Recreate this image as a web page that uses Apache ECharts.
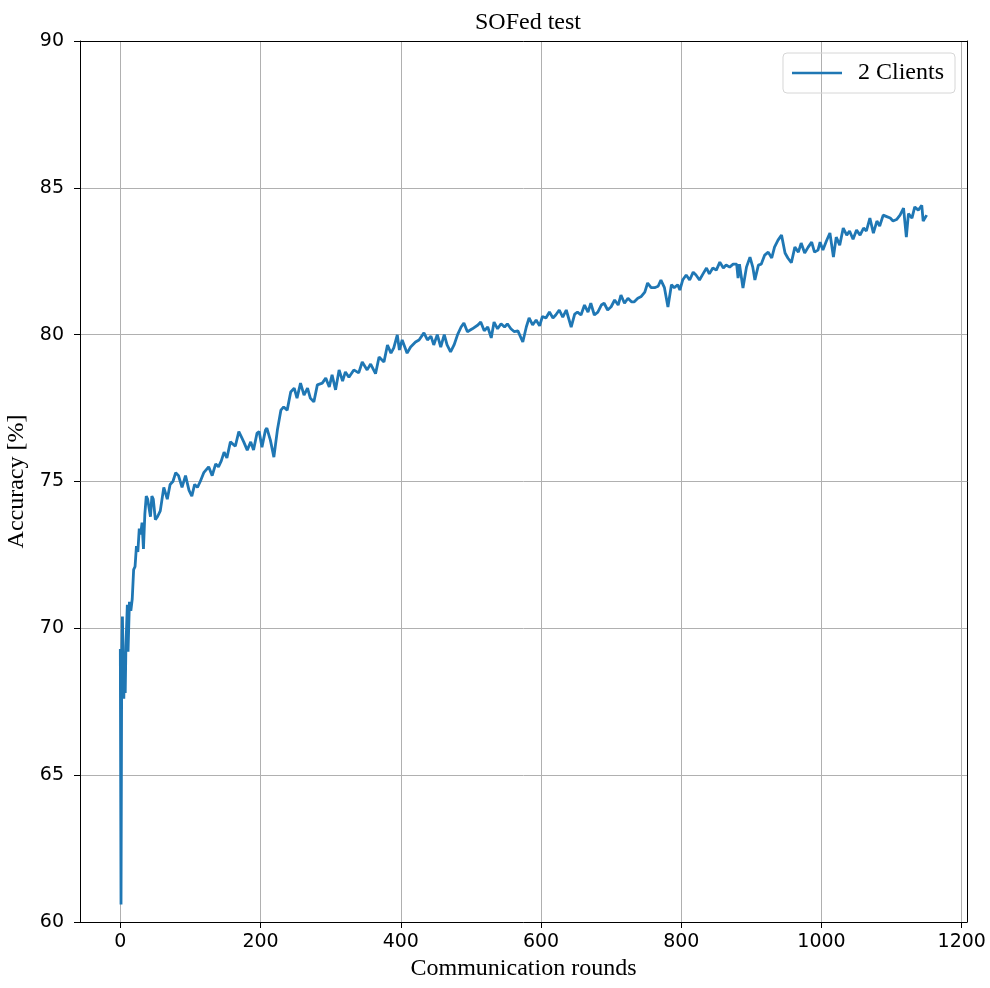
<!DOCTYPE html>
<html>
<head>
<meta charset="utf-8">
<title>SOFed test</title>
<script src="https://cdn.jsdelivr.net/npm/echarts@6/dist/echarts.min.js"></script>
<style>
  html, body { margin: 0; padding: 0; background: #fff; }
  #chart { width: 990px; height: 988px; }
</style>
</head>
<body>
<div id="chart"></div>
<script>
  // communication rounds (x) and test accuracy in % (y)
  var rounds = [0, 1, 2, 3, 5, 6, 7, 8, 10, 11, 13, 15, 17, 19, 21, 23, 25, 27, 29, 31, 33, 35, 37, 39, 41, 43, 45, 47, 50, 53, 57,
    62, 67, 71, 75, 79, 83, 88, 93, 98, 102, 106, 110, 114, 119, 126, 131, 136, 140, 144, 148, 152, 157, 164, 169, 173, 176,
    181, 186, 190, 195, 198, 202, 207, 209, 214, 219, 224, 229, 233, 238, 243, 248, 252, 257, 262, 267, 271, 276, 281, 288,
    293, 298, 302, 307, 312, 317, 321, 326, 333, 340, 345, 352, 357, 364, 369, 376, 381, 386, 390, 395, 398, 402, 409, 414,
    421, 426, 433, 438, 443, 447, 452, 457, 462, 466, 471, 476, 481, 486, 490, 495, 502, 510, 514, 519, 524, 529, 533, 538,
    543, 548, 552, 557, 562, 567, 574, 579, 583, 588, 593, 598, 602, 607, 612, 617, 621, 626, 631, 636, 643, 648, 652, 657,
    662, 667, 671, 676, 681, 686, 690, 695, 700, 705, 710, 714, 719, 724, 729, 733, 738, 743, 748, 752, 757, 762, 767, 771,
    776, 781, 786, 790, 795, 798, 802, 807, 812, 817, 821, 826, 831, 836, 840, 845, 850, 855, 860, 864, 869, 874, 879, 881,
    883, 888, 893, 898, 902, 905, 910, 914, 919, 924, 929, 933, 938, 943, 948, 952, 957, 962, 967, 971, 976, 981, 986, 990,
    995, 998, 1002, 1007, 1012, 1017, 1021, 1026, 1031, 1036, 1040, 1045, 1050, 1055, 1060, 1064, 1069, 1074, 1079, 1083,
    1088, 1093, 1098, 1102, 1107, 1112, 1117, 1121, 1124, 1129, 1133, 1138, 1143, 1145, 1150];

  var accuracy = [69.3, 60.6, 69.0, 70.4, 67.6, 69.2, 67.8, 69.4, 70.8, 69.2, 70.9, 70.6, 71.0, 72.0, 72.1, 72.8, 72.6, 73.4, 73.2,
    73.6, 72.7, 73.9, 74.5, 74.4, 74.1, 73.8, 74.5, 74.4, 73.7, 73.8, 74.0,
    74.8, 74.4, 74.9, 75.0, 75.3, 75.2, 74.8, 75.2, 74.7, 74.5, 74.9, 74.8, 75.0, 75.3, 75.5, 75.2, 75.6, 75.5, 75.7, 76.0,
    75.8, 76.35, 76.2, 76.7, 76.5, 76.35,
    76.07, 76.35, 76.07, 76.65, 76.7, 76.17, 76.75, 76.82, 76.41, 75.83, 76.75, 77.43, 77.54, 77.43, 78.05, 78.18, 77.84,
    78.35, 77.94, 78.18, 77.84, 77.71, 78.29, 78.35,
    78.52, 78.22, 78.63, 78.12, 78.8, 78.42, 78.73, 78.55, 78.8, 78.7, 79.07, 78.8, 79.0, 78.67, 79.24, 79.07, 79.65, 79.37,
    79.55, 79.99, 79.48, 79.82, 79.37, 79.58,
    79.75, 79.82, 80.06, 79.82, 79.95, 79.65, 80.0, 79.58, 80.0, 79.65, 79.41, 79.65, 80.0, 80.26, 80.4, 80.1, 80.2, 80.33,
    80.43, 80.13, 80.26, 79.89, 80.43, 80.2,
    80.37, 80.26, 80.37, 80.2, 80.1, 80.13, 79.75, 80.26, 80.57, 80.33, 80.5, 80.3, 80.62, 80.57, 80.77, 80.57, 80.67, 80.84,
    80.6, 80.84, 80.26, 80.7, 80.77, 80.67,
    81.01, 80.77, 81.07, 80.67, 80.77, 81.01, 81.07, 80.84, 80.95, 81.18, 81.01, 81.35, 81.07, 81.24, 81.12, 81.12, 81.24,
    81.3, 81.45, 81.76, 81.6, 81.6, 81.65, 81.86,
    81.6, 80.94, 81.7, 81.6, 81.7, 81.52, 81.86, 82.03, 81.86, 82.13, 82.03, 81.86, 82.07, 82.27, 82.07, 82.27, 82.2, 82.47,
    82.27, 82.37, 82.3, 82.4, 82.4, 81.93,
    82.4, 81.59, 82.3, 82.64, 82.3, 81.86, 82.37, 82.4, 82.71, 82.81, 82.61, 82.98, 83.22, 83.39, 82.78, 82.61, 82.45, 82.98,
    82.81, 83.12, 82.78, 82.98, 83.15, 82.81,
    82.88, 83.15, 82.88, 83.19, 83.46, 82.64, 83.32, 83.05, 83.63, 83.39, 83.53, 83.25, 83.56, 83.39, 83.63, 83.53, 83.97,
    83.46, 83.87, 83.7,
    84.07, 84.02, 83.97, 83.87, 83.92, 84.07, 84.31, 83.32, 84.12, 83.97, 84.35, 84.24, 84.4, 83.87, 84.07];

  var xTickLabels = [0, 200, 400, 600, 800, 1000, 1200];
  var yTickLabels = [60, 65, 70, 75, 80, 85, 90];

  var seriesData = rounds.map(function (r, i) { return [r, accuracy[i]]; });

  var serif = 'Liberation Serif';
  var frame = {show: true, onZero: false, lineStyle: {color: '#000', width: 1}};

  var chart = echarts.init(document.getElementById('chart'));
  chart.setOption({
    animation: false,
    title: {
      text: 'SOFed test',
      left: 523,
      top: 6,
      textAlign: 'center',
      textStyle: {fontFamily: serif, fontSize: 24, fontWeight: 'normal', color: '#000'}
    },
    legend: {
      data: ['2 Clients'],
      right: 35,
      top: 53,
      icon: 'rect',
      itemWidth: 50,
      itemHeight: 2.5,
      padding: [8, 11, 8, 9],
      borderColor: '#d6d6d6',
      borderWidth: 1,
      borderRadius: 4,
      textStyle: {fontFamily: serif, fontSize: 24, color: '#000', padding: [0, 0, 0, 11]}
    },
    grid: {left: 80, right: 23, top: 41, bottom: 66, outerBoundsMode: 'none', containLabel: false},
    xAxis: [{
      type: 'value',
      min: -57.5,
      max: 1207.5,
      splitNumber: 6,
      name: 'Communication rounds',
      nameLocation: 'middle',
      nameGap: 30,
      nameTextStyle: {fontFamily: serif, fontSize: 24, color: '#000'},
      axisLine: frame,
      axisTick: {length: 6, lineStyle: {color: '#000'}, customValues: xTickLabels},
      axisLabel: {
        margin: 11,
        fontFamily: 'DejaVu Sans',
        fontSize: 19,
        color: '#000',
        customValues: xTickLabels,
        formatter: function (v) { return xTickLabels.indexOf(v) >= 0 ? String(v) : ''; }
      },
      splitLine: {show: true, lineStyle: {color: '#b0b0b0', width: 1}}
    }, {
      type: 'value',
      position: 'top',
      min: -57.5,
      max: 1207.5,
      axisLine: frame,
      axisTick: {show: false},
      axisLabel: {show: false},
      splitLine: {show: false}
    }],
    yAxis: [{
      type: 'value',
      min: 60,
      max: 90,
      interval: 5,
      name: 'Accuracy [%]',
      nameLocation: 'middle',
      nameRotate: 90,
      nameGap: 42,
      nameTextStyle: {fontFamily: serif, fontSize: 24, color: '#000'},
      axisLine: frame,
      axisTick: {show: true, length: 6, lineStyle: {color: '#000'}},
      axisLabel: {
        margin: 16,
        fontFamily: 'DejaVu Sans',
        fontSize: 19,
        color: '#000',
        formatter: function (v) { return yTickLabels.indexOf(v) >= 0 ? String(v) : ''; }
      },
      splitLine: {show: true, lineStyle: {color: '#b0b0b0', width: 1}}
    }, {
      type: 'value',
      position: 'right',
      min: 60,
      max: 90,
      interval: 5,
      axisLine: frame,
      axisTick: {show: false},
      axisLabel: {show: false},
      splitLine: {show: false}
    }],
    series: [{
      name: '2 Clients',
      type: 'line',
      data: seriesData,
      symbol: 'none',
      lineStyle: {color: '#1f77b4', width: 2.8},
      itemStyle: {color: '#1f77b4'}
    }]
  });
</script>
</body>
</html>
